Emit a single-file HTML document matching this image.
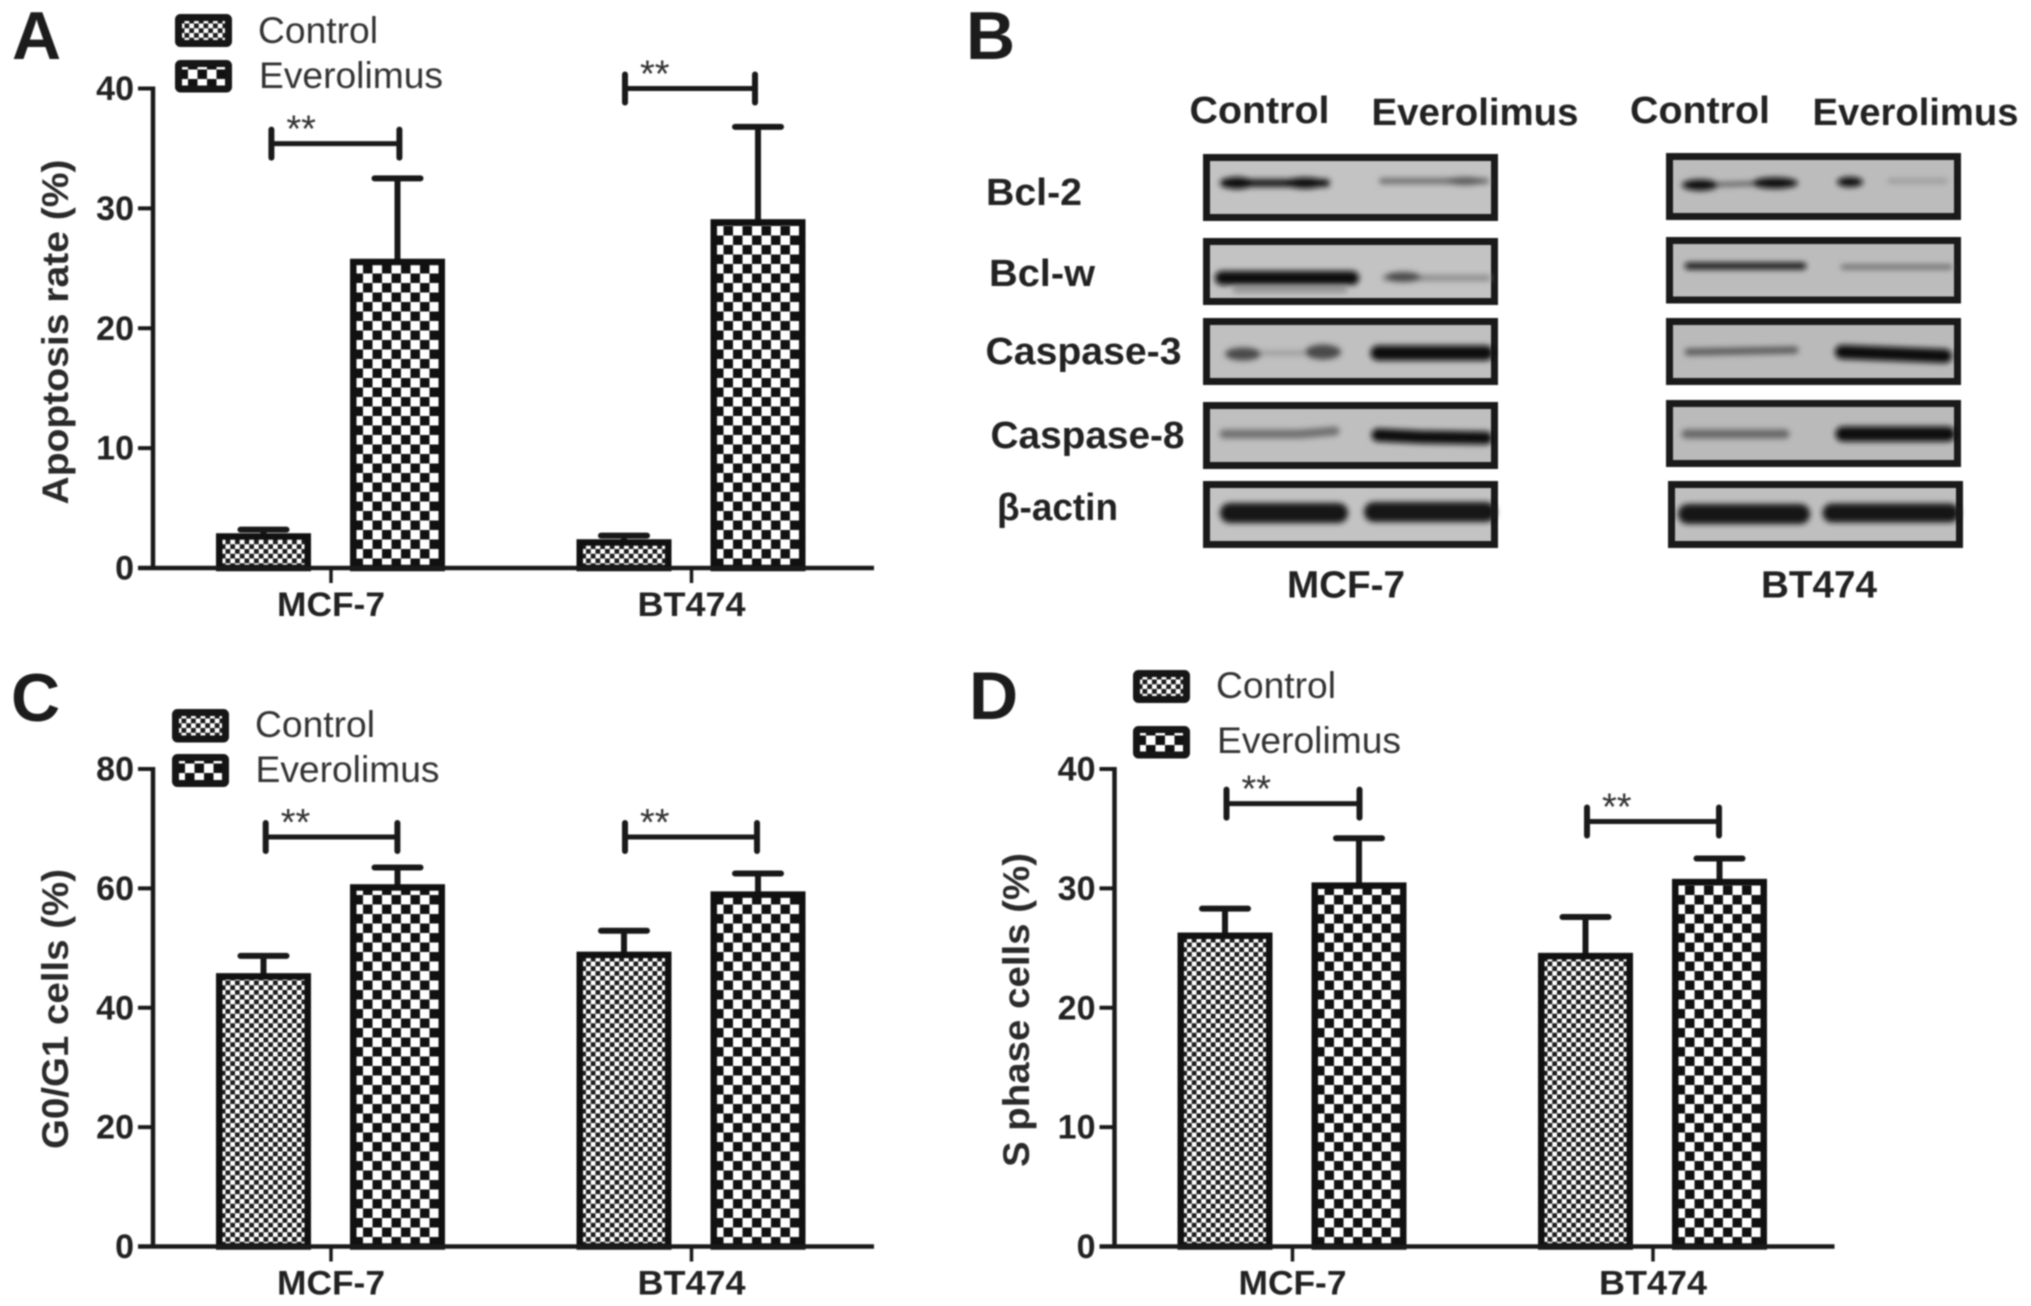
<!DOCTYPE html>
<html lang="en">
<head>
<meta charset="utf-8">
<title>Everolimus apoptosis and cell cycle figure</title>
<style>
html,body{margin:0;padding:0;background:#fff;}
svg{display:block;filter:blur(0.7px);}
text{font-family:"Liberation Sans",Arial,sans-serif;}
.panel-letter{font-size:68px;font-weight:700;fill:#1c1c1c;}
.legend-text{font-size:37px;fill:#333;}
.axis-title{font-size:37px;font-weight:700;fill:#2a2a2a;}
.blot-label{font-size:38px;font-weight:700;fill:#222;}
.cat-label{font-size:34px;font-weight:700;fill:#222;}
</style>
</head>
<body>
<svg id="figure" xmlns="http://www.w3.org/2000/svg" width="2031" height="1306" viewBox="0 0 2031 1306">
  <defs>
    <pattern id="fine-check" patternUnits="userSpaceOnUse" width="9.5" height="9.5">
      <rect width="9.5" height="9.5" fill="#fff"/>
      <rect x="0" y="0" width="4.75" height="4.75" fill="#1c1c1c"/>
      <rect x="4.75" y="4.75" width="4.75" height="4.75" fill="#1c1c1c"/>
    </pattern>
    <pattern id="coarse-check" patternUnits="userSpaceOnUse" width="19" height="19">
      <rect width="19" height="19" fill="#fff"/>
      <rect x="3.5" y="9.5" width="9.5" height="9.5" fill="#111"/>
      <rect x="13" y="0" width="6" height="9.5" fill="#111"/>
      <rect x="0" y="0" width="3.5" height="9.5" fill="#111"/>
    </pattern>
    <filter id="band-blur" filterUnits="userSpaceOnUse" x="0" y="0" width="2031" height="1306"><feGaussianBlur stdDeviation="2.8"/></filter>
  </defs>
  <rect width="2031" height="1306" fill="#fff"/>

  <text class="panel-letter" x="12" y="59">A</text>
  <text class="panel-letter" x="966" y="59">B</text>
  <text class="panel-letter" x="11" y="721">C</text>
  <text class="panel-letter" x="969" y="719">D</text>

  <!-- Legends -->
  <g>
    <g transform="translate(175,14)"><rect x="3.5" y="3.5" width="50" height="26" rx="2" fill="url(#fine-check)" stroke="#161616" stroke-width="7"/></g>
    <g transform="translate(175,60)"><rect x="3.5" y="3.5" width="50" height="25.5" rx="2" fill="url(#coarse-check)" stroke="#161616" stroke-width="7"/></g>
    <text class="legend-text" x="258" y="43" textLength="120" lengthAdjust="spacingAndGlyphs">Control</text>
    <text class="legend-text" x="259" y="88" textLength="184" lengthAdjust="spacingAndGlyphs">Everolimus</text>
  </g>
  <g>
    <g transform="translate(172,709)"><rect x="3.5" y="3.5" width="50" height="26.5" rx="2" fill="url(#fine-check)" stroke="#161616" stroke-width="7"/></g>
    <g transform="translate(172,754)"><rect x="3.5" y="3.5" width="50" height="26" rx="2" fill="url(#coarse-check)" stroke="#161616" stroke-width="7"/></g>
    <text class="legend-text" x="255" y="737" textLength="120" lengthAdjust="spacingAndGlyphs">Control</text>
    <text class="legend-text" x="255.5" y="782" textLength="184" lengthAdjust="spacingAndGlyphs">Everolimus</text>
  </g>
  <g>
    <g transform="translate(1133,670)"><rect x="3.5" y="3.5" width="50" height="26" rx="2" fill="url(#fine-check)" stroke="#161616" stroke-width="7"/></g>
    <g transform="translate(1133,726)"><rect x="3.5" y="3.5" width="50" height="25.5" rx="2" fill="url(#coarse-check)" stroke="#161616" stroke-width="7"/></g>
    <text class="legend-text" x="1216" y="698" textLength="120" lengthAdjust="spacingAndGlyphs">Control</text>
    <text class="legend-text" x="1217" y="753" textLength="184" lengthAdjust="spacingAndGlyphs">Everolimus</text>
  </g>

  <!-- Axis titles -->
  <text class="axis-title" transform="translate(68,504.5) rotate(-90)" textLength="345" lengthAdjust="spacingAndGlyphs">Apoptosis rate (%)</text>
  <text class="axis-title" transform="translate(68,1149) rotate(-90)" textLength="280" lengthAdjust="spacingAndGlyphs">G0/G1 cells (%)</text>
  <text class="axis-title" transform="translate(1029,1167) rotate(-90)" textLength="314" lengthAdjust="spacingAndGlyphs">S phase cells (%)</text>

  <!-- Panel B: western blots -->
  <g>
    <text class="blot-label" x="1189.5" y="123" textLength="140" lengthAdjust="spacingAndGlyphs">Control</text>
    <text class="blot-label" x="1371.5" y="125" textLength="207" lengthAdjust="spacingAndGlyphs">Everolimus</text>
    <text class="blot-label" x="1630" y="123" textLength="140" lengthAdjust="spacingAndGlyphs">Control</text>
    <text class="blot-label" x="1812.5" y="125" textLength="206" lengthAdjust="spacingAndGlyphs">Everolimus</text>

    <text class="blot-label" x="986" y="205" textLength="96" lengthAdjust="spacingAndGlyphs">Bcl-2</text>
    <text class="blot-label" x="989" y="286" textLength="106" lengthAdjust="spacingAndGlyphs">Bcl-w</text>
    <text class="blot-label" x="985.5" y="364" textLength="196" lengthAdjust="spacingAndGlyphs">Caspase-3</text>
    <text class="blot-label" x="990.5" y="448" textLength="194" lengthAdjust="spacingAndGlyphs">Caspase-8</text>
    <text class="blot-label" x="997" y="520" textLength="121" lengthAdjust="spacingAndGlyphs">β-actin</text>
    <text class="blot-label" x="1287" y="597.5" textLength="118" lengthAdjust="spacingAndGlyphs">MCF-7</text>
    <text class="blot-label" x="1761" y="597.5" textLength="116" lengthAdjust="spacingAndGlyphs">BT474</text>

    <!-- MCF-7 blots -->
    <g>
      <rect x="1206.5" y="157.5" width="288" height="60" fill="#c3c3c3" stroke="#1a1a1a" stroke-width="7"/>
      <g filter="url(#band-blur)">
        <line x1="1224" y1="183" x2="1326" y2="183" stroke="#1c1c1c" stroke-width="8" stroke-linecap="round"/>
        <ellipse cx="1237" cy="183" rx="16" ry="6" fill="#111"/><ellipse cx="1305" cy="183" rx="20" ry="5.5" fill="#111"/>
        <line x1="1382" y1="181" x2="1486" y2="181" stroke="#6e6e6e" stroke-width="6" stroke-linecap="round"/>
        <ellipse cx="1465" cy="181" rx="18" ry="4" fill="#5a5a5a"/>
      </g>
    </g>
    <g>
      <rect x="1206.5" y="241.5" width="288" height="60" fill="#c3c3c3" stroke="#1a1a1a" stroke-width="7"/>
      <g filter="url(#band-blur)">
        <line x1="1235" y1="290" x2="1345" y2="290" stroke="#888" stroke-width="5" stroke-linecap="round"/>
        <line x1="1222" y1="278" x2="1352" y2="278" stroke="#0c0c0c" stroke-width="14" stroke-linecap="round"/>
        <line x1="1385" y1="278" x2="1488" y2="278" stroke="#8c8c8c" stroke-width="6" stroke-linecap="round"/>
        <ellipse cx="1403" cy="277" rx="18" ry="5" fill="#4a4a4a"/>
      </g>
    </g>
    <g>
      <rect x="1206.5" y="321.5" width="288" height="60" fill="#c0c0c0" stroke="#1a1a1a" stroke-width="7"/>
      <g filter="url(#band-blur)">
        <line x1="1260" y1="353" x2="1305" y2="353" stroke="#9c9c9c" stroke-width="5"/>
        <ellipse cx="1243" cy="354" rx="18" ry="6.5" fill="#484848"/><ellipse cx="1323" cy="352" rx="18" ry="7.5" fill="#484848"/>
        <line x1="1378" y1="353" x2="1486" y2="353" stroke="#0a0a0a" stroke-width="15" stroke-linecap="round"/>
      </g>
    </g>
    <g>
      <rect x="1206.5" y="405.5" width="288" height="60" fill="#bfbfbf" stroke="#1a1a1a" stroke-width="7"/>
      <g filter="url(#band-blur)">
        <path d="M1224 434 L1300 434 L1335 431" fill="none" stroke="#707070" stroke-width="9" stroke-linecap="round"/>
        <path d="M1378 435 L1420 437 L1486 438" fill="none" stroke="#0f0f0f" stroke-width="13" stroke-linecap="round"/>
      </g>
    </g>
    <g>
      <rect x="1206.5" y="484.5" width="288" height="60" fill="#c3c3c3" stroke="#1a1a1a" stroke-width="7"/>
      <g filter="url(#band-blur)">
        <line x1="1230" y1="513" x2="1338" y2="513" stroke="#161616" stroke-width="20" stroke-linecap="round"/>
        <line x1="1374" y1="512" x2="1486" y2="512" stroke="#161616" stroke-width="20" stroke-linecap="round"/>
      </g>
    </g>

    <!-- BT474 blots -->
    <g>
      <rect x="1669.5" y="156.5" width="288" height="60" fill="#bcbcbc" stroke="#1a1a1a" stroke-width="7"/>
      <g filter="url(#band-blur)">
        <line x1="1700" y1="185" x2="1775" y2="183" stroke="#555" stroke-width="4"/>
        <ellipse cx="1700" cy="185" rx="18" ry="5.5" fill="#111"/><ellipse cx="1775" cy="183" rx="23" ry="5.5" fill="#111"/>
        <ellipse cx="1850" cy="182" rx="13" ry="5" fill="#111"/>
        <line x1="1890" y1="181" x2="1945" y2="181" stroke="#9a9a9a" stroke-width="5" stroke-linecap="round"/>
      </g>
    </g>
    <g>
      <rect x="1669.5" y="240.5" width="288" height="59.5" fill="#bcbcbc" stroke="#1a1a1a" stroke-width="7"/>
      <g filter="url(#band-blur)">
        <line x1="1688" y1="266" x2="1803" y2="266" stroke="#111" stroke-width="6.5" stroke-linecap="round"/>
        <line x1="1843" y1="267" x2="1950" y2="267" stroke="#666" stroke-width="4.5" stroke-linecap="round"/>
      </g>
    </g>
    <g>
      <rect x="1669.5" y="321.5" width="288" height="60" fill="#bababa" stroke="#1a1a1a" stroke-width="7"/>
      <g filter="url(#band-blur)">
        <line x1="1688" y1="352" x2="1795" y2="350" stroke="#5a5a5a" stroke-width="7" stroke-linecap="round"/>
        <line x1="1842" y1="352" x2="1945" y2="356" stroke="#0f0f0f" stroke-width="14" stroke-linecap="round"/>
      </g>
    </g>
    <g>
      <rect x="1669.5" y="403.5" width="288" height="60" fill="#bababa" stroke="#1a1a1a" stroke-width="7"/>
      <g filter="url(#band-blur)">
        <line x1="1686" y1="434" x2="1785" y2="434" stroke="#666" stroke-width="9" stroke-linecap="round"/>
        <line x1="1843" y1="434" x2="1948" y2="434" stroke="#0c0c0c" stroke-width="15" stroke-linecap="round"/>
      </g>
    </g>
    <g>
      <rect x="1671.5" y="484.5" width="288" height="60" fill="#bfbfbf" stroke="#1a1a1a" stroke-width="7"/>
      <g filter="url(#band-blur)">
        <line x1="1688" y1="514" x2="1800" y2="514" stroke="#161616" stroke-width="20" stroke-linecap="round"/>
        <line x1="1832" y1="513" x2="1950" y2="513" stroke="#161616" stroke-width="19" stroke-linecap="round"/>
      </g>
    </g>
  </g>

  <g id="charts"></g>
</svg>

<script>
// Shared categories
const categories = ['MCF-7', 'BT474'];

// Panel A: apoptosis rate (%)
const apoptosisTicks = [0, 10, 20, 30, 40];
const apoptosisControl = [2.9, 2.4];
const apoptosisEverolimus = [25.8, 29.1];
const apoptosisControlError = [0.3, 0.3];
const apoptosisEverolimusError = [6.7, 7.7];
const apoptosisBracketLevels = [35.4, 40];

// Panel C: G0/G1 cells (%)
const g0g1Ticks = [0, 20, 40, 60, 80];
const g0g1Control = [45.8, 49.4];
const g0g1Everolimus = [60.7, 59.5];
const g0g1ControlError = [2.9, 3.5];
const g0g1EverolimusError = [2.8, 3.0];
const g0g1BracketLevels = [68.6, 68.6];

// Panel D: S phase cells (%)
const sPhaseTicks = [0, 10, 20, 30, 40];
const sPhaseControl = [26.3, 24.6];
const sPhaseEverolimus = [30.5, 30.8];
const sPhaseControlError = [2.0, 3.0];
const sPhaseEverolimusError = [3.7, 1.7];
const sPhaseBracketLevels = [37.1, 35.6];

const SVG_NS = 'http://www.w3.org/2000/svg';
const chartsRoot = document.getElementById('charts');
const BAR_WIDTH = 95, BAR_STROKE = 6.5, FIRST_BAR = 63, SERIES_STEP = 134, CATEGORY_STEP = 360.5, TICK_OFFSET = 115;

function add(parent, tag, attrs) {
  const el = document.createElementNS(SVG_NS, tag);
  for (const key in attrs) el.setAttribute(key, attrs[key]);
  parent.appendChild(el);
  return el;
}

function drawPanel(p) {
  const group = add(chartsRoot, 'g', {});
  
  

  const yScale = v => p.y0 - v * (p.y0 - p.yTop) / p.max;
  const barLeft = (c, s) => p.axisX + FIRST_BAR + c * CATEGORY_STEP + s * SERIES_STEP;
  const catTick = c => p.axisX + FIRST_BAR + TICK_OFFSET + c * CATEGORY_STEP;
  const series = [
    { key: 'control', fill: 'url(#fine-check)', values: p.control, errors: p.controlError },
    { key: 'everolimus', fill: 'url(#coarse-check)', values: p.everolimus, errors: p.everolimusError }
  ];

  series.forEach((s, si) => {
    s.values.forEach((value, c) => {
      const left = barLeft(c, si);
      const mid = left + BAR_WIDTH / 2;
      const top = yScale(value);
      const capY = yScale(value + s.errors[c]);

      const stem = add(group, 'line', { x1: mid, x2: mid, y1: top + 2, y2: capY, stroke: '#181818', 'stroke-width': 6 });
      
      

      const cap = add(group, 'line', { x1: mid - 23, x2: mid + 23, y1: capY, y2: capY, stroke: '#181818', 'stroke-width': 6, 'stroke-linecap': 'round' });
      
      

      const holder = add(group, 'g', { transform: 'translate(' + left + ',' + p.y0 + ')' });
      const h = p.y0 - top;
      const bar = add(holder, 'rect', {
        x: BAR_STROKE / 2, y: -h + BAR_STROKE / 2,
        width: BAR_WIDTH - BAR_STROKE, height: Math.max(h - BAR_STROKE / 2, 0),
        fill: s.fill, stroke: '#111', 'stroke-width': BAR_STROKE
      });
      
      
    });
  });

  const yAxis = add(group, 'line', { x1: p.axisX, x2: p.axisX, y1: yScale(p.max) - 2, y2: p.y0, stroke: '#1a1a1a', 'stroke-width': 4.5 });
  
  

  const xAxis = add(group, 'line', { x1: p.axisX - 15, x2: p.axisX + p.axisLen, y1: p.y0, y2: p.y0, stroke: '#1a1a1a', 'stroke-width': 4.5 });
  
  

  p.ticks.forEach(t => {
    const y = yScale(t);
    const tick = add(group, 'line', { x1: p.axisX - 15, x2: p.axisX, y1: y, y2: y, stroke: '#1a1a1a', 'stroke-width': 4 });
    
    

    const label = add(group, 'text', { x: p.axisX - 19, y: y + 11.5, 'text-anchor': 'end', 'font-size': 34, 'font-weight': 700, fill: '#222' });
    label.textContent = String(t);
    
    
  });

  categories.forEach((name, c) => {
    const x = catTick(c);
    const tick = add(group, 'line', { x1: x, x2: x, y1: p.y0, y2: p.y0 + 15, stroke: '#1a1a1a', 'stroke-width': 3.5 });
    
    

    const label = add(group, 'text', { x: x, y: p.y0 + 48, 'text-anchor': 'middle', class: 'cat-label', textLength: 108, lengthAdjust: 'spacingAndGlyphs' });
    label.textContent = name;
    
    

    const left = x + p.bracketOffsets[c][0];
    const right = x + p.bracketOffsets[c][1];
    const by = yScale(p.bracketLevels[c]);

    const span = add(group, 'line', { x1: left, x2: right, y1: by, y2: by, stroke: '#1a1a1a', 'stroke-width': 5 });
    
    

    const capL = add(group, 'line', { x1: left, x2: left, y1: by - 14, y2: by + 14, stroke: '#1a1a1a', 'stroke-width': 6, 'stroke-linecap': 'round' });
    
    

    const capR = add(group, 'line', { x1: right, x2: right, y1: by - 14, y2: by + 14, stroke: '#1a1a1a', 'stroke-width': 6, 'stroke-linecap': 'round' });
    
    

    const stars = add(group, 'text', { x: left + 15, y: by - 2, 'font-size': 38, fill: '#333' });
    stars.textContent = '**';
    
    
  });
}

drawPanel({
  id: 'apoptosis', axisX: 153, axisLen: 721, y0: 568, yTop: 88.5, max: 40, ticks: apoptosisTicks,
  control: apoptosisControl, everolimus: apoptosisEverolimus,
  controlError: apoptosisControlError, everolimusError: apoptosisEverolimusError,
  bracketLevels: apoptosisBracketLevels, bracketOffsets: [[-59.6, 68.4], [-66.5, 63.5]]
});
drawPanel({
  id: 'g0g1', axisX: 153, axisLen: 721, y0: 1246.5, yTop: 769, max: 80, ticks: g0g1Ticks,
  control: g0g1Control, everolimus: g0g1Everolimus,
  controlError: g0g1ControlError, everolimusError: g0g1EverolimusError,
  bracketLevels: g0g1BracketLevels, bracketOffsets: [[-65.3, 66.4], [-66.5, 65.5]]
});
drawPanel({
  id: 's-phase', axisX: 1114.5, axisLen: 720, y0: 1246.5, yTop: 769, max: 40, ticks: sPhaseTicks,
  control: sPhaseControl, everolimus: sPhaseEverolimus,
  controlError: sPhaseControlError, everolimusError: sPhaseEverolimusError,
  bracketLevels: sPhaseBracketLevels, bracketOffsets: [[-66, 67], [-66, 66]]
});
</script>
</body>
</html>
